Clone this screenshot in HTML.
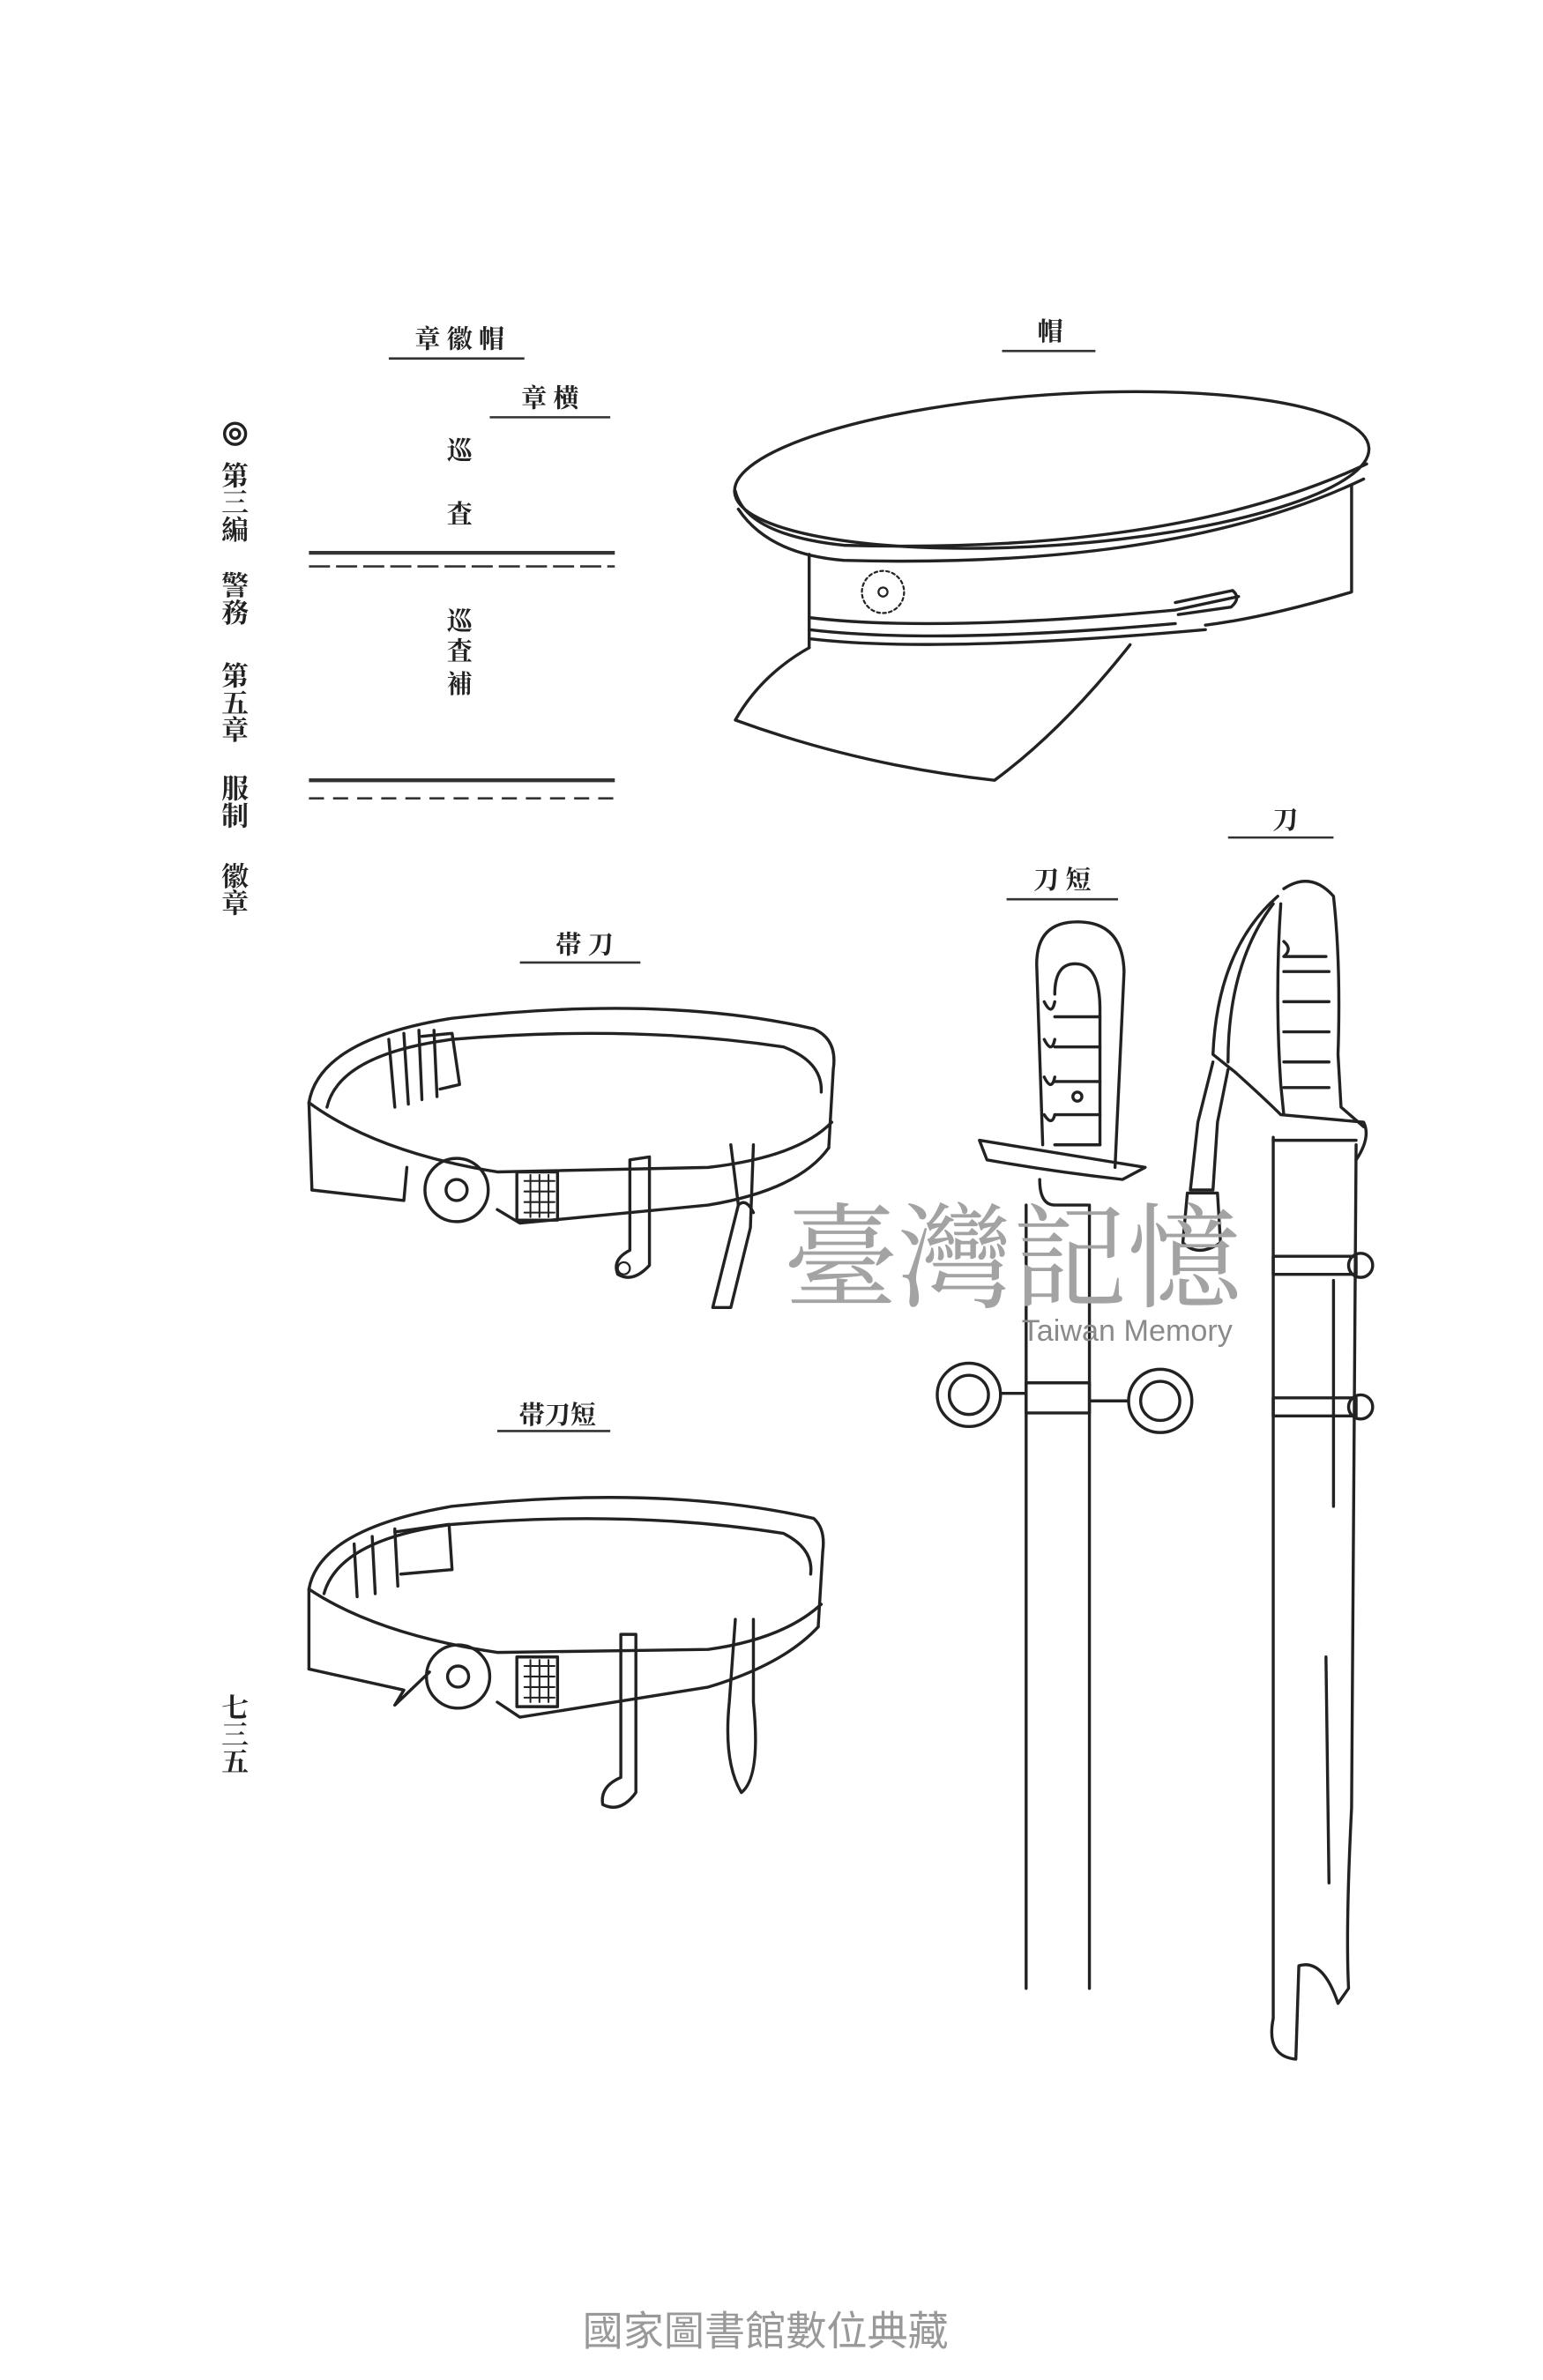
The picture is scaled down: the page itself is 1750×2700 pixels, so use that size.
<!DOCTYPE html>
<html><head><meta charset="utf-8">
<style>
html,body{margin:0;padding:0;background:#fff;}
svg{display:block;}
text{font-family:"Liberation Serif","Noto Serif CJK SC","Noto Sans CJK SC",serif;fill:#222;}
</style></head>
<body>
<svg width="1750" height="2700" viewBox="0 0 1024 1580" xmlns="http://www.w3.org/2000/svg">
<rect width="1024" height="1580" fill="#fff"/>
<g stroke="#222" fill="none" stroke-width="2">
<circle cx="156" cy="288" r="7"/><circle cx="156" cy="288" r="3"/>
</g>
<g font-size="18" font-weight="bold" text-anchor="middle">
<text x="156" y="322">第</text><text x="156" y="340">三</text><text x="156" y="358">編</text>
<text x="156" y="395">警</text><text x="156" y="413">務</text>
<text x="156" y="455">第</text><text x="156" y="473">五</text><text x="156" y="491">章</text>
<text x="156" y="530">服</text><text x="156" y="548">制</text>
<text x="156" y="588">徽</text><text x="156" y="606">章</text>
<text x="156" y="1140">七</text><text x="156" y="1158">三</text><text x="156" y="1176">五</text>
</g>

<g font-size="17" font-weight="bold" text-anchor="middle">
<text x="305" y="231">章 徽 帽</text>
<text x="365" y="270">章 横</text>
<text x="305" y="305">巡</text>
<text x="305" y="347">査</text>
<text x="305" y="418">巡</text>
<text x="305" y="438">査</text>
<text x="305" y="460">補</text>
<text x="697" y="226">帽</text>
<text x="388" y="633">帯 刀</text>
<text x="370" y="945">帯刀短</text>
<text x="705" y="590">刀 短</text>
<text x="853" y="550">刀</text>
</g>
<g stroke="#333" stroke-width="1.5" fill="none">
<line x1="258" y1="238" x2="348" y2="238"/>
<line x1="325" y1="277" x2="405" y2="277"/>
<line x1="205" y1="367" x2="408" y2="367" stroke-width="2.5"/>
<line x1="205" y1="376" x2="408" y2="376" stroke-dasharray="14 4"/>
<line x1="205" y1="518" x2="408" y2="518" stroke-width="2.5"/>
<line x1="205" y1="530" x2="408" y2="530" stroke-dasharray="10 6"/>
<line x1="665" y1="233" x2="727" y2="233"/>
<line x1="345" y1="639" x2="425" y2="639"/>
<line x1="330" y1="950" x2="405" y2="950"/>
<line x1="668" y1="597" x2="742" y2="597"/>
<line x1="815" y1="556" x2="885" y2="556"/>
</g>

<g stroke="#222" fill="none" stroke-width="2" stroke-linecap="round" stroke-linejoin="round">
<!-- cap -->
<ellipse cx="698" cy="312" rx="211" ry="50" transform="rotate(-4 698 312)"/>
<path d="M488 326 Q495 355 560 362 Q780 368 907 308"/>
<path d="M490 338 Q510 368 560 372 Q780 378 905 318"/>
<path d="M537 368 L537 430"/>
<path d="M897 322 L897 393 Q840 410 800 415"/>
<path d="M537 410 Q620 420 780 405 L822 396"/>
<path d="M537 418 Q620 428 780 414"/>
<path d="M537 424 Q620 434 800 418"/>
<path d="M780 400 L818 392 Q824 397 817 403 L782 408"/>
<path d="M537 430 Q505 448 488 478 Q570 508 660 518 Q705 485 750 428"/>
<g stroke-width="1.3">
<circle cx="586" cy="393" r="14" stroke-dasharray="2 2"/>
<circle cx="586" cy="393" r="3"/>
</g>

<!-- belt 1 -->
<path d="M207 790 L205 732 Q212 690 300 676 Q440 660 540 683 Q556 690 553 710 L550 762"/>
<path d="M217 735 Q225 700 300 690 Q420 680 520 695 Q546 705 545 725"/>
<path d="M205 732 Q250 765 330 778 L470 775 Q530 768 552 745"/>
<path d="M207 790 L268 797 L270 775 M330 803 L345 812 L470 800 Q530 790 550 762"/>
<path d="M258 690 L262 735 M268 686 L271 733 M278 684 L280 730 M288 684 L290 728"/>
<path d="M280 688 L300 686 L305 720 L292 723"/>
<circle cx="303" cy="790" r="21"/><circle cx="303" cy="790" r="7"/>
<rect x="343" y="778" width="27" height="32"/>
<path d="M348 784 h20 M348 791 h20 M348 798 h20 M348 805 h20 M352 780 v28 M358 780 v28 M364 780 v28" stroke-width="1.2"/>
<path d="M418 770 L418 830 Q406 836 410 846 Q420 852 431 840 L431 768 Z"/>
<circle cx="414" cy="842" r="4" stroke-width="1.3"/>
<path d="M485 760 L490 800 L473 868 L485 868 L498 815 L500 760"/>
<path d="M490 800 Q495 795 500 805"/>
<!-- belt 2 -->
<path d="M205 1108 L205 1055 Q212 1015 300 1000 Q440 985 540 1008 Q548 1015 546 1030 L543 1080"/>
<path d="M215 1058 Q225 1022 300 1012 Q420 1002 520 1018 Q540 1028 538 1045"/>
<path d="M205 1055 Q250 1085 330 1097 L470 1095 Q520 1088 545 1065"/>
<path d="M205 1108 L268 1122 L262 1132 L285 1110 M330 1130 L345 1140 L470 1120 Q520 1105 543 1080"/>
<path d="M235 1025 L237 1060 M247 1020 L249 1058 M262 1015 L264 1053"/>
<path d="M262 1017 L298 1012 L300 1042 L266 1045"/>
<circle cx="304" cy="1113" r="21"/><circle cx="304" cy="1113" r="7"/>
<rect x="343" y="1100" width="27" height="33"/>
<path d="M348 1106 h20 M348 1113 h20 M348 1120 h20 M348 1127 h20 M352 1102 v28 M358 1102 v28 M364 1102 v28" stroke-width="1.2"/>
<path d="M412 1085 L412 1180 Q398 1186 400 1198 Q412 1204 422 1190 L422 1085 Z"/>
<path d="M488 1075 L484 1130 Q480 1170 492 1190 Q505 1180 500 1130 L500 1075"/>

<!-- short sword -->
<path d="M692 760 L688 640 Q688 612 715 612 Q745 612 746 645 L740 775"/>
<path d="M700 660 Q700 638 716 640 Q730 642 730 670 L730 760"/>
<path d="M693 665 Q698 675 700 665 M693 690 Q698 700 700 690 M693 715 Q698 725 700 715 M693 740 Q698 748 700 740"/>
<path d="M700 675 h30 M700 695 h30 M700 718 h30 M700 740 h30 M700 760 h30"/>
<circle cx="715" cy="728" r="3"/>
<path d="M650 757 Q700 765 760 775 L745 783 Q700 778 655 770 Z"/>
<path d="M690 783 Q690 800 700 800 L722 800"/>
<path d="M681 800 L681 1320 M723 800 L723 1320"/>
<circle cx="643" cy="926" r="21"/><circle cx="643" cy="926" r="13"/>
<circle cx="770" cy="930" r="21"/><circle cx="770" cy="930" r="13"/>
<rect x="681" y="918" width="42" height="20"/>
<path d="M664 925 H681 M723 930 H749"/>

<!-- long sword -->
<path d="M852 590 Q870 578 885 595 Q890 640 888 700 L890 735 L905 748"/>
<path d="M850 600 Q846 660 850 720 L852 740"/>
<path d="M852 625 Q858 630 852 635 h28 M852 645 h30 M852 665 h30 M852 685 h30 M852 705 h30 M852 722 h30"/>
<path d="M848 595 Q808 630 805 700 L820 712"/>
<path d="M845 600 Q815 640 815 705"/>
<path d="M820 712 Q840 730 850 740 L905 745 Q910 755 900 770"/>
<path d="M805 705 L795 745 L790 790 L805 790 L808 745 L815 710"/>
<path d="M788 792 L785 825 Q795 835 810 825 L808 792 Z"/>
<path d="M845 755 L845 1340 Q840 1365 860 1367 L862 1305 Q878 1300 888 1330 L895 1320 Q893 1280 897 1200 L900 760"/>
<path d="M845 757 L900 757"/>
<rect x="845" y="834" width="55" height="12"/>
<rect x="845" y="928" width="55" height="12"/>
<circle cx="903" cy="840" r="8"/><circle cx="903" cy="934" r="8"/>
<path d="M885 850 L885 1000 M880 1100 L882 1250"/>
</g>

<text x="672" y="862" font-size="76" text-anchor="middle" style="fill:#a3a3a3;font-family:'Noto Serif CJK SC',serif">臺灣記憶</text>
<text x="748" y="890" font-size="20" text-anchor="middle" style="fill:#8a8a8a;font-family:'Liberation Sans',sans-serif">Taiwan Memory</text>

<text x="508" y="1557" font-size="27" text-anchor="middle" style="fill:#999;font-family:'Liberation Sans','Noto Sans CJK TC',sans-serif">國家圖書館數位典藏</text>
</svg>
</body></html>
